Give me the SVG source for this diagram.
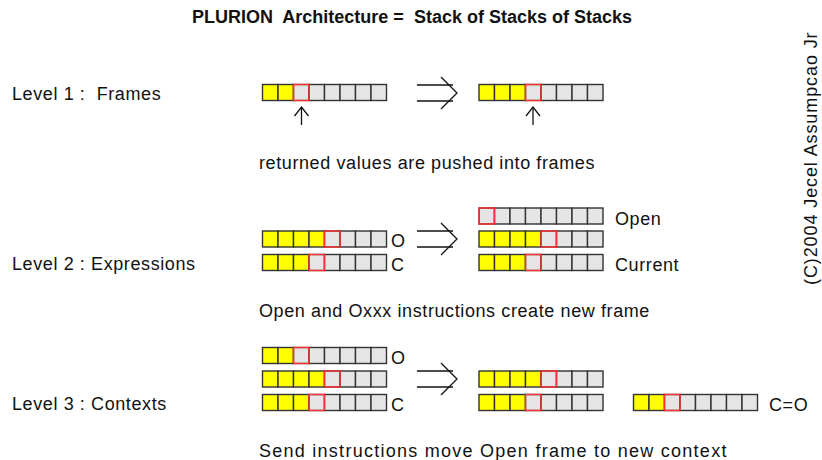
<svg xmlns="http://www.w3.org/2000/svg" width="822" height="460" viewBox="0 0 822 460">
  <style>
    text { font-family: "Liberation Sans", Arial, Helvetica, sans-serif; font-size: 18px; letter-spacing: 0.6px; fill: #111; white-space: pre; }
    .title { font-weight: bold; letter-spacing: 0; }
    .vert { letter-spacing: 0.9px; }
    .y { fill: #ffff00; stroke: #333; stroke-width: 1.4; }
    .g { fill: #e5e5e5; stroke: #333; stroke-width: 1.4; }
    .r { fill: none; stroke: #ff3030; stroke-width: 1.4; }
    .ln { fill: none; stroke: #111; stroke-width: 1.3; }
  </style>
  <defs>
    <rect id="cy" class="y" width="15.5" height="16"/>
    <rect id="cg" class="g" width="15.5" height="16"/>
    <rect id="cr" class="r" width="15.5" height="16"/>
    <!-- an 8-slot frame: filled slots, then the red "top" slot, then empty slots -->
    <g id="s0">
      <use href="#cg" x="0"/><use href="#cg" x="15.5"/><use href="#cg" x="31"/><use href="#cg" x="46.5"/>
      <use href="#cg" x="62"/><use href="#cg" x="77.5"/><use href="#cg" x="93"/><use href="#cg" x="108.5"/>
      <use href="#cr" x="0"/>
    </g>
    <g id="s2">
      <use href="#cy" x="0"/><use href="#cy" x="15.5"/><use href="#cg" x="31"/><use href="#cg" x="46.5"/>
      <use href="#cg" x="62"/><use href="#cg" x="77.5"/><use href="#cg" x="93"/><use href="#cg" x="108.5"/>
      <use href="#cr" x="31"/>
    </g>
    <g id="s3">
      <use href="#cy" x="0"/><use href="#cy" x="15.5"/><use href="#cy" x="31"/><use href="#cg" x="46.5"/>
      <use href="#cg" x="62"/><use href="#cg" x="77.5"/><use href="#cg" x="93"/><use href="#cg" x="108.5"/>
      <use href="#cr" x="46.5"/>
    </g>
    <g id="s4">
      <use href="#cy" x="0"/><use href="#cy" x="15.5"/><use href="#cy" x="31"/><use href="#cy" x="46.5"/>
      <use href="#cg" x="62"/><use href="#cg" x="77.5"/><use href="#cg" x="93"/><use href="#cg" x="108.5"/>
      <use href="#cr" x="62"/>
    </g>
    <!-- double-line "implies" arrow, origin at the upper line start -->
    <g id="imp" class="ln">
      <line x1="0" y1="0" x2="36" y2="0"/>
      <line x1="0" y1="16" x2="36" y2="16"/>
      <polyline points="24,-8 40,8 24,24"/>
    </g>
    <g id="up" class="ln">
      <line x1="0" y1="0" x2="0" y2="18"/>
      <polyline points="-7,9 0,0 7,9"/>
    </g>
  </defs>

  <text class="title" x="192" y="23" xml:space="preserve">PLURION  Architecture =  Stack of Stacks of Stacks</text>

  <g id="copyright">
    <text class="vert" transform="translate(817,285) rotate(-90)" x="0" y="0">(C)2004 Jecel Assumpcao Jr</text>
  </g>

  <!-- Level 1 -->
  <g id="level1">
    <text x="12" y="100" xml:space="preserve">Level 1 :  Frames</text>
    <g id="l1-before"><use href="#s2" x="262.5" y="84.5"/></g>
    <g id="l1-after"><use href="#s3" x="479" y="84.5"/></g>
    <text x="259" y="168.5">returned values are pushed into frames</text>
  </g>

  <!-- Level 2 -->
  <g id="level2">
    <text x="12" y="270">Level 2 : Expressions</text>
    <g id="l2-open"><use href="#s4" x="262.5" y="231"/><text x="391" y="247">O</text></g>
    <g id="l2-current"><use href="#s3" x="262.5" y="254.5"/><text x="391" y="270.5">C</text></g>
    <g id="l2-new-open"><use href="#s0" x="479" y="208"/><text x="615" y="224.5">Open</text></g>
    <g id="l2-mid"><use href="#s4" x="479" y="231"/></g>
    <g id="l2-new-current"><use href="#s3" x="479" y="254.5"/><text x="615" y="270.5">Current</text></g>
    <text x="259" y="317">Open and Oxxx instructions create new frame</text>
  </g>

  <!-- Level 3 -->
  <g id="level3">
    <text x="12" y="410">Level 3 : Contexts</text>
    <g id="l3-open"><use href="#s2" x="262.5" y="347.5"/><text x="391" y="363.5">O</text></g>
    <g id="l3-mid"><use href="#s4" x="262.5" y="371"/></g>
    <g id="l3-current"><use href="#s3" x="262.5" y="394.5"/><text x="391" y="410.5">C</text></g>
    <g id="l3-a"><use href="#s4" x="479" y="371"/></g>
    <g id="l3-b"><use href="#s3" x="479" y="394.5"/></g>
    <g id="l3-context"><use href="#s2" x="633.5" y="394.5"/><text x="769" y="410.5">C=O</text></g>
    <text x="259" y="457" textLength="468" lengthAdjust="spacing">Send instructions move Open frame to new context</text>
  </g>

  <!-- connectors -->
  <g id="connectors">
    <use href="#imp" x="417" y="85"/>
    <use href="#imp" x="417" y="231"/>
    <use href="#imp" x="417" y="371"/>
    <use href="#up" x="301.5" y="107"/>
    <use href="#up" x="533" y="107"/>
  </g>
</svg>
